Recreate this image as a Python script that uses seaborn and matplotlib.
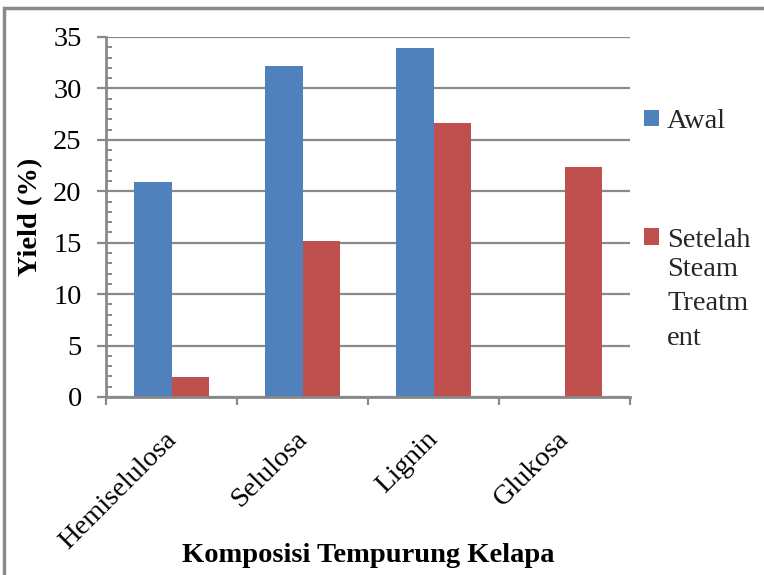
import matplotlib
matplotlib.use("Agg")
import matplotlib.pyplot as plt
from matplotlib.patches import Rectangle, Patch
from matplotlib.ticker import MultipleLocator, FixedLocator
from matplotlib.transforms import ScaledTranslation
import seaborn as sns
import pandas as pd

categories = ["Hemiselulosa", "Selulosa", "Lignin", "Glukosa"]
awal = [20.9, 32.2, 33.9, 0.0]
setelah = [1.9, 15.2, 26.6, 22.4]
series_names = ["Awal", "Setelah Steam Treatment"]
colors = ["#4F81BD", "#C0504D"]
y_ticks = [0, 5, 10, 15, 20, 25, 30, 35]

df = pd.DataFrame({
    "Komposisi": categories * 2,
    "Yield": awal + setelah,
    "Seri": [series_names[0]] * len(categories) + [series_names[1]] * len(categories),
})

sns.set_theme(style="white")
serif = ["Liberation Serif", "DejaVu Serif"]
plt.rcParams["font.family"] = serif
FS = 20.5
grid_c = "#898989"

fig = plt.figure(figsize=(7.64, 5.75), dpi=100)
ax = fig.add_axes([106 / 764, 1 - 397 / 575, 524 / 764, 360 / 575])

sns.barplot(data=df, x="Komposisi", y="Yield", hue="Seri", order=categories,
            hue_order=series_names, palette=colors, width=0.57, gap=0,
            saturation=1, linewidth=0, errorbar=None, legend=False, ax=ax)

ax.set_xlim(-0.5, len(categories) - 0.5)
ax.set_ylim(0, 35)
ax.yaxis.set_major_locator(FixedLocator(y_ticks))
ax.yaxis.set_minor_locator(MultipleLocator(1))
ax.set_axisbelow(True)
ax.grid(axis="y", which="major", color=grid_c, linewidth=1.6)
ax.grid(axis="x", visible=False)

for s in ["top", "right"]:
    ax.spines[s].set_visible(False)
for s in ["left", "bottom"]:
    ax.spines[s].set_color(grid_c)
    ax.spines[s].set_linewidth(2)

ax.tick_params(axis="y", which="major", direction="out", length=6.5, width=1.6,
               color=grid_c, labelsize=FS, pad=11, left=True)
ax.tick_params(axis="y", which="minor", direction="in", length=4.5, width=1.4,
               color=grid_c, left=True)
ax.xaxis.set_minor_locator(FixedLocator([i - 0.5 for i in range(len(categories) + 1)]))
ax.tick_params(axis="x", which="minor", direction="out", length=6, width=1.6,
               color=grid_c, bottom=True)
ax.tick_params(axis="x", which="major", length=0, labelsize=FS, pad=28)
shift = ScaledTranslation(1 / 100, 0, fig.dpi_scale_trans)
for lab in ax.get_xticklabels():
    lab.set_rotation(45)
    lab.set_ha("right")
    lab.set_va("center")
    lab.set_rotation_mode("anchor")
    lab.set_transform(lab.get_transform() + shift)
for lab in ax.get_yticklabels() + ax.get_xticklabels():
    lab.set_color("black")

ax.set_ylabel("Yield (%)", fontsize=FS, fontweight="bold", color="black")
ax.yaxis.set_label_coords((43 - 106) / 524, 0.5)
ax.set_xlabel("Komposisi Tempurung Kelapa", fontsize=FS, fontweight="bold",
              color="black")
ax.xaxis.set_label_coords(0.5, -0.405)

# legend: square swatches, second label wraps over several lines
handles = [Patch(facecolor=c, edgecolor="none") for c in colors]
leg = fig.legend(handles, ["Awal", "Setelah"], loc="upper left",
                 bbox_to_anchor=(644 / 764, 1 - 109 / 575), frameon=False,
                 prop={"family": serif, "size": FS}, handlelength=0.53,
                 handleheight=0.53, handletextpad=0.28, labelspacing=3.3,
                 borderpad=0, borderaxespad=0)
fig.canvas.draw()
ext = leg.get_texts()[1].get_window_extent()
x0 = fig.transFigure.inverted().transform((ext.x0, ext.y0))[0]
fig.text(x0, 1 - 304 / 575, "Steam\nTreatm\nent", fontsize=FS, family=serif,
         ha="left", va="center", linespacing=1.5, transform=fig.transFigure)

# outer chart frame (top and left edges)
fig.add_artist(Rectangle((4 / 764, -0.1), 1.2, 1.1 - 8 / 575,
                         transform=fig.transFigure, fill=False,
                         edgecolor="#8a8a8a", linewidth=2.5))

fig.savefig("out.png", dpi=100, facecolor="white")
